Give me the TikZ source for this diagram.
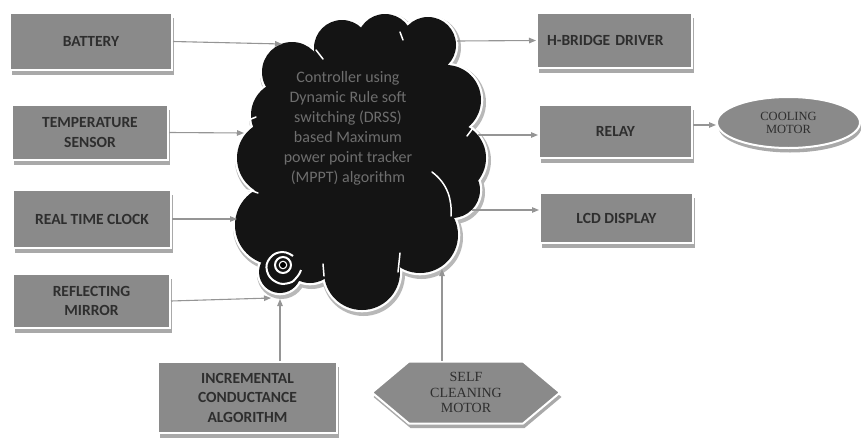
\documentclass[tikz,border=0pt]{standalone}
\usepackage{fontspec}
\setmainfont{Carlito}
\newfontfamily\motorfont{Liberation Serif}
\usetikzlibrary{arrows.meta,shapes.geometric,shapes.symbols,shadows}
\definecolor{boxgray}{HTML}{8A8A8A}
\definecolor{boxtext}{HTML}{2E2E2E}
\definecolor{arrgray}{HTML}{959595}
\definecolor{cloudtxt}{HTML}{6E6E6E}
\definecolor{shadowgray}{HTML}{A9A9A9}
\tikzset{
  gshadow/.style={general shadow={shadow xshift=1.5pt,shadow yshift=-4.5pt,fill=shadowgray}},
  gbox/.style={draw=white,line width=2pt,fill=boxgray,text=boxtext,align=center,
    font=\bfseries\fontsize{15.5}{19.5}\selectfont,inner sep=0pt,gshadow},
  motor/.style={draw=white,line width=2pt,fill=boxgray,text=boxtext,align=center,
    font=\motorfont\fontsize{14}{15.5}\selectfont,inner sep=0pt,gshadow},
  arr/.style={draw=arrgray,line width=1.1pt,-{Triangle[length=7pt,width=5.5pt]}},
  crease/.style={draw=white,line width=1.5pt,line cap=round}
}
\begin{document}
\begin{tikzpicture}[x=1pt,y=-1pt]
\useasboundingbox (0,0) rectangle (861,439);
% ---------------- cloud ----------------
\def\puffs{292/72/30, 342/48/28, 385/42/28, 428/45/28, 446/100/35, 450/158/36,
  452/190/28, 420/235/38, 362/272/38, 310/255/28, 280/272/21, 275/225/40,
  275/158/38, 285/115/34}
\foreach \cx/\cy/\r in \puffs {\fill[black!28] (\cx+1.5,\cy+2.5) circle (\r+3.5);}
\foreach \cx/\cy/\r in \puffs {\fill[white] (\cx,\cy) circle (\r+2.3);}
\foreach \cx/\cy/\r in \puffs {\fill[black!92] (\cx,\cy) circle (\r);}
\fill[black!92] (292,72) -- (342,48) -- (385,42) -- (428,45) -- (446,100) -- (450,158)
  -- (452,190) -- (420,235) -- (362,272) -- (310,255) -- (280,272) -- (275,225)
  -- (275,158) -- (285,115) -- cycle;
% creases
\draw[crease] (316,50) -- (323,59);
\draw[crease] (400,32) -- (403,40);
\draw[crease] (473,128) -- (467,136);
\draw[crease] (432,172) .. controls (448,184) and (452,200) .. (451,216);
\draw[crease] (243,190) to[bend left=10] (258,193);
\draw[crease] (246,121) -- (256,117);
\draw[crease] (400,253) -- (398,272);
\draw[crease] (323,264) -- (324,276);
% spiral
\fill[white] (283,265) circle (4.3);
\fill[black] (283,265) circle (3);
\draw[white,line width=2pt] (283,265) circle (8);
\draw[white,line width=2pt] plot[smooth,tension=0.8] coordinates
  {(293,256) (282,252) (270,258) (267,271) (276,282) (289,283) (297,277) (301,270)};
\node[text=cloudtxt,align=center,font=\fontsize{16}{20}\selectfont,inner sep=0pt] (ctrl) at (348,128.5)
  {Controller using\\Dynamic Rule soft\\switching (DRSS)\\based Maximum\\power point tracker\\(MPPT) algorithm};
% cloud attachment points
\coordinate (cBat) at (282,44);
\coordinate (cTmp) at (244,133);
\coordinate (cRtc) at (237,219);
\coordinate (cRef) at (271,298);
\coordinate (cInc) at (280,299);
\coordinate (cSelf) at (442,269);
\coordinate (cH) at (457,41);
\coordinate (cRel) at (478,135);
\coordinate (cLcd) at (472,210);
% ---------------- boxes ----------------
\node[gbox,minimum width=162,minimum height=57] (bat) at (91,41.5) {BATTERY};
\node[gbox,minimum width=156,minimum height=55] (tmp) at (90,132.5) {TEMPERATURE\\SENSOR};
\node[gbox,minimum width=158,minimum height=58] (rtc) at (92,219) {REAL TIME CLOCK};
\node[gbox,minimum width=157,minimum height=54] (ref) at (91.5,301) {REFLECTING\\MIRROR};
\node[gbox,minimum width=179,minimum height=71] (inc) at (247.5,397.5) {INCREMENTAL\\CONDUCTANCE\\ALGORITHM};
\node[motor,signal,signal to=west and east,signal pointer angle=80,minimum width=188,minimum height=62] (self) at (466,392.5) {SELF\\CLEANING\\MOTOR};
\node[gbox,minimum width=155,minimum height=55,text width=155,align=left] (hb) at (614.5,40.5) {\hspace*{10pt}H-BRIDGE DRIVER};
\node[gbox,minimum width=153,minimum height=53] (rel) at (615.5,131.5) {RELAY};
\node[gbox,minimum width=153,minimum height=50] (lcd) at (616.5,218) {LCD DISPLAY};
\node[motor,ellipse,minimum width=143,minimum height=51,font=\motorfont\fontsize{12.5}{13}\selectfont] (cool) at (788.5,122.5) {COOLING\\MOTOR};
% ---------------- arrows ----------------
\draw[arr] (bat.east) -- (cBat);
\draw[arr] (tmp.east) -- (cTmp);
\draw[arr] (rtc.east) -- (cRtc);
\draw[arr] (ref.east) -- (cRef);
\draw[arr] (inc.north -| cInc) -- (cInc);
\draw[arr] (self.north -| cSelf) -- (cSelf);
\draw[arr] (cH) -- (hb.west);
\draw[arr] (cRel) -- (rel.west |- cRel);
\draw[arr] (cLcd) -- (lcd.west |- cLcd);
\draw[arr] (rel.east |- 0,125) -- (cool.west |- 0,125);
\end{tikzpicture}
\end{document}
